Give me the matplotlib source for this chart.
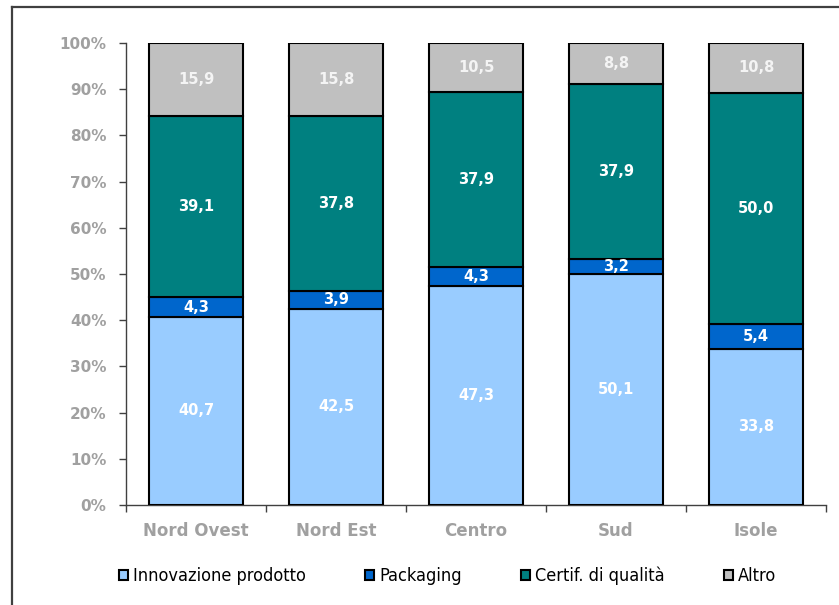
import matplotlib
matplotlib.use("Agg")
import matplotlib.pyplot as plt
from matplotlib import font_manager
from matplotlib.lines import Line2D
from matplotlib.patches import Patch
import numpy as np

regions = ["Nord Ovest", "Nord Est", "Centro", "Sud", "Isole"]
series_names = ["Innovazione prodotto", "Packaging", "Certif. di qualità", "Altro"]
innovazione = [40.7, 42.5, 47.3, 50.1, 33.8]
packaging = [4.3, 3.9, 4.3, 3.2, 5.4]
certificazione = [39.1, 37.8, 37.9, 37.9, 50.0]
altro = [15.9, 15.8, 10.5, 8.8, 10.8]
y_ticks = [0, 10, 20, 30, 40, 50, 60, 70, 80, 90, 100]

series = [innovazione, packaging, certificazione, altro]
colors = ["#99CCFF", "#0066CC", "#008080", "#C0C0C0"]
label_colors = ["white", "white", "white", "#F4F4F4"]
gray_text = "#A0A0A0"
bold_font = "DejaVu Sans"


def is_regular(f):
    return f.weight in (400, "normal", "regular", "book", "Book") and f.style == "normal"


# pick a narrow, regular-weight face for the legend text
faces = font_manager.fontManager.ttflist
narrow = [f for f in faces if f.name == "Liberation Sans Narrow" and is_regular(f)]
if not narrow:
    narrow = [f for f in faces
              if ("Narrow" in f.name or "Condensed" in f.name
                  or f.stretch in ("condensed", "semi-condensed"))
              and is_regular(f)]
if narrow:
    legend_prop = font_manager.FontProperties(fname=narrow[0].fname, size=13)
else:
    legend_prop = font_manager.FontProperties(family="Liberation Sans", size=11.5)

W, H = 839, 605
fig = plt.figure(figsize=(W / 100, H / 100), dpi=100)
fig.patch.set_facecolor("white")

ax = fig.add_axes([126 / W, 1 - 505 / H, 700 / W, 462 / H])

x = np.arange(len(regions))
bottom = np.zeros(len(regions))
for vals, col, lcol in zip(series, colors, label_colors):
    vals = np.array(vals)
    ax.bar(x, vals, bottom=bottom, width=0.67, color=col,
           edgecolor="black", linewidth=1.5, zorder=3)
    for xi, b, v in zip(x, bottom, vals):
        ax.text(xi, b + v / 2, f"{v:.1f}".replace(".", ","),
                ha="center", va="center", color=lcol, fontsize=10.5,
                fontweight="bold", family=bold_font, zorder=4)
    bottom += vals

ax.set_xlim(-0.5, len(regions) - 0.5)
ax.set_ylim(0, 100)

ax.set_yticks(y_ticks)
ax.set_yticklabels([f"{t}%" for t in y_ticks])
ax.tick_params(axis="y", length=5, width=1, color="#404040", pad=9,
               labelsize=11, labelcolor=gray_text)
for lab in ax.get_yticklabels():
    lab.set_fontweight("bold")
    lab.set_family(bold_font)

ax.set_xticks(x)
ax.set_xticklabels(regions)
ax.set_xticks(np.arange(-0.5, len(regions)), minor=True)
ax.tick_params(axis="x", which="major", length=0, pad=12,
               labelsize=12, labelcolor=gray_text)
ax.tick_params(axis="x", which="minor", length=5, width=1, color="#404040")
for lab in ax.get_xticklabels():
    lab.set_fontweight("bold")
    lab.set_family(bold_font)

for side in ["top", "right"]:
    ax.spines[side].set_visible(False)
for side in ["left", "bottom"]:
    ax.spines[side].set_color("#404040")
    ax.spines[side].set_linewidth(1)

handles = [Patch(facecolor=c, edgecolor="black", linewidth=1.5) for c in colors]
leg = fig.legend(handles, series_names, loc="center left",
                 bbox_to_anchor=(119 / W, 1 - 576 / H), ncol=4, frameon=False,
                 prop=legend_prop,
                 handlelength=0.5, handleheight=0.5, handletextpad=0.3,
                 columnspacing=3.25, borderpad=0, borderaxespad=0)

# outer frame (left and top edges)
fig.add_artist(Line2D([11.5 / W, 11.5 / W], [0, 1 - 6.5 / H],
                      transform=fig.transFigure, color="#404040", lw=1.6))
fig.add_artist(Line2D([11.5 / W, 1], [1 - 6.5 / H, 1 - 6.5 / H],
                      transform=fig.transFigure, color="#404040", lw=1.6))

fig.savefig("out.png", dpi=100)
